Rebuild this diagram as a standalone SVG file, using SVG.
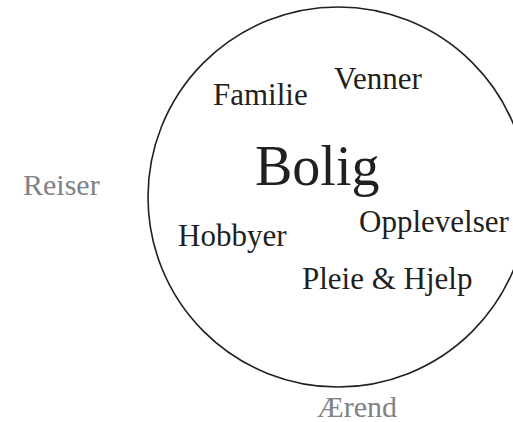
<svg xmlns="http://www.w3.org/2000/svg" width="513" height="422" viewBox="0 0 513 422">
  <style>
    text { font-family: "Liberation Serif", "DejaVu Serif", serif; fill: #231f20; }
    .item { font-size: 31px; }
    .outer { font-size: 30px; fill: #808285; }
    .core { font-size: 56px; }
    .ring { fill: none; stroke: #231f20; stroke-width: 1.6; }
  </style>
  <rect width="513" height="422" fill="#ffffff"/>
  <g id="circle">
    <circle class="ring" cx="338" cy="197" r="190"/>
  </g>
  <g id="bolig"><text class="core" x="255" y="185">Bolig</text></g>
  <g id="familie"><text class="item" x="213" y="105">Familie</text></g>
  <g id="venner"><text class="item" x="334" y="89">Venner</text></g>
  <g id="hobbyer"><text class="item" x="178" y="246">Hobbyer</text></g>
  <g id="opplevelser"><text class="item" x="359" y="232">Opplevelser</text></g>
  <g id="pleie"><text class="item" x="302" y="289">Pleie &amp; Hjelp</text></g>
  <g id="reiser"><text class="outer" x="23" y="195">Reiser</text></g>
  <g id="aerend"><text class="outer" x="317" y="417">Ærend</text></g>
</svg>
